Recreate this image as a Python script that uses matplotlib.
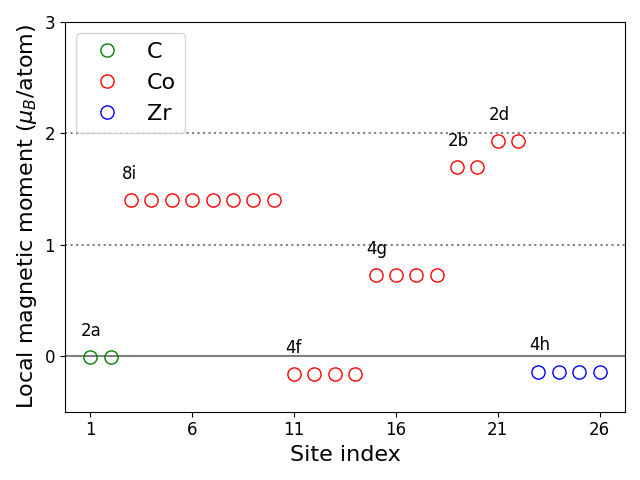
import matplotlib
matplotlib.use("Agg")
import matplotlib.pyplot as plt

# site data
c_sites = [1, 2]
c_moms = [-0.01, -0.01]
co_sites = [3, 4, 5, 6, 7, 8, 9, 10, 11, 12, 13, 14, 15, 16, 17, 18, 19, 20, 21, 22]
co_moms = [1.40] * 8 + [-0.16] * 4 + [0.73] * 4 + [1.70] * 2 + [1.93] * 2
zr_sites = [23, 24, 25, 26]
zr_moms = [-0.14] * 4

# Wyckoff labels: (text, first site, moment)
wyck_labels = ["2a", "8i", "4f", "4g", "2b", "2d", "4h"]
wyck_first = [1, 3, 11, 15, 19, 21, 23]
wyck_moms = [-0.01, 1.40, -0.16, 0.73, 1.70, 1.93, -0.14]

fig, ax = plt.subplots(figsize=(6.4, 4.8), dpi=100)

ax.axhline(0, color="gray", lw=1.5)
ax.axhline(1, color="gray", ls=":", lw=1.5)
ax.axhline(2, color="gray", ls=":", lw=1.5)

ms = 9.5
ax.plot(c_sites, c_moms, "o", mfc="none", mec="green", ms=ms, label="C")
ax.plot(co_sites, co_moms, "o", mfc="none", mec="red", ms=ms, label="Co")
ax.plot(zr_sites, zr_moms, "o", mfc="none", mec="blue", ms=ms, label="Zr")

for lab, s, m in zip(wyck_labels, wyck_first, wyck_moms):
    ax.text(s - 0.45, m + 0.19, lab, fontsize=12)

ax.set_ylim(-0.5, 3)
ax.set_xticks([1, 6, 11, 16, 21, 26])
ax.set_yticks([0, 1, 2, 3])
ax.tick_params(labelsize=12)
ax.set_xlabel("Site index", fontsize=16)
ax.set_ylabel(r"Local magnetic moment ($\mu_B$/atom)", fontsize=16)
ax.legend(fontsize=16, loc="upper left")

fig.tight_layout()
fig.savefig("out.png")
